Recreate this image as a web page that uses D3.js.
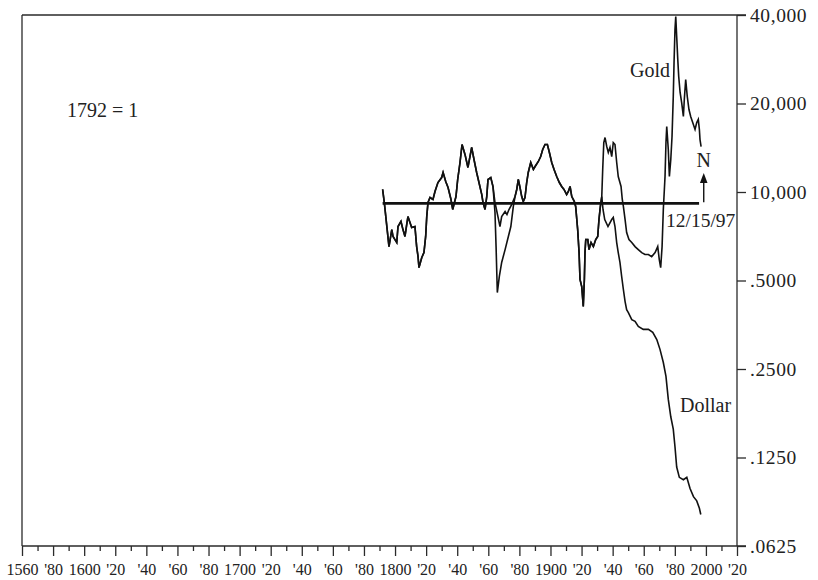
<!DOCTYPE html>
<html>
<head>
<meta charset="utf-8">
<script src="https://cdn.jsdelivr.net/npm/d3@7"></script>
<style>
  html, body { margin: 0; padding: 0; background: #fff; }
  svg { display: block; }
  text { font-family: "Liberation Serif", "Times New Roman", serif; fill: #222; }
</style>
</head>
<body>
<svg id="chart" width="818" height="580"></svg>
<script>
// ---- Data (index, 1792 = 1) ----
const goldYears = [
  1792, 1793.1, 1796.1, 1797.9, 1798.7, 1801.1, 1801.9, 1803.8, 1805.1, 1806.4, 1807.5, 1808.3,
  1809.6, 1810.7, 1812.8, 1813.9, 1814.8, 1815.4, 1817.2, 1818.6, 1819.7, 1820.4, 1821.2, 1822.5,
  1824.4, 1825.7, 1827.6, 1830.0, 1830.9, 1832.6, 1834.1, 1836.0, 1837.1, 1837.9, 1839.2, 1840.3,
  1841.8, 1843.1, 1845.0, 1846.9, 1849.3, 1850.8, 1852.5, 1854.0, 1855.8, 1856.6, 1857.9, 1859.0,
  1859.8, 1861.6, 1863.0, 1864.3, 1866.2, 1867.5, 1868.6, 1870.8, 1872.0, 1873.3, 1875.1, 1875.9,
  1877.2, 1878.3, 1879.3, 1880.4, 1881.5, 1882.5, 1883.6, 1884.7, 1885.7, 1887.3, 1889.0, 1890.1,
  1892.2, 1893.7, 1895.0, 1896.5, 1898.0, 1899.3, 1900.8, 1902.3, 1904.0, 1905.7, 1907.2, 1908.7,
  1910.4, 1911.5, 1912.6, 1913.7, 1915.3, 1916.2, 1917.5, 1918.4, 1919.0, 1920.1, 1921.1, 1921.8,
  1922.2, 1922.7, 1924.0, 1924.8, 1926.1, 1927.6, 1929.1, 1930.4, 1931.2, 1932.1, 1933.0,
  1933.6, 1934.3, 1935.1, 1936.2, 1937.2, 1938.3, 1939.4, 1940.4, 1941.5, 1942.6, 1943.6, 1945.4,
  1946.2, 1946.9, 1948.0, 1949.0, 1950.5, 1952.3, 1954.4, 1956.5, 1958.7, 1960.8, 1963.0, 1965.1,
  1967.3, 1969.0, 1970.0, 1970.9, 1971.8, 1972.6, 1973.7, 1974.3, 1974.8, 1975.8, 1976.5, 1977.4,
  1978.2, 1979.0, 1979.5, 1980.1, 1980.6, 1981.2, 1981.9, 1982.5, 1983.4, 1984.4, 1985.5, 1986.1,
  1987.0, 1988.0, 1989.1, 1990.2, 1991.5, 1993.0, 1994.1, 1995.1, 1995.8, 1996.2, 1996.9
];
const goldIndex = [
  1.02, 0.92, 0.652, 0.745, 0.706, 0.673, 0.763, 0.794, 0.745, 0.706, 0.775, 0.825,
  0.787, 0.757, 0.763, 0.652, 0.603, 0.553, 0.599, 0.622, 0.706, 0.825, 0.921, 0.958,
  0.943, 1.004, 1.077, 1.120, 1.165, 1.086, 1.036, 0.943, 0.872, 0.907, 0.965, 1.103,
  1.260, 1.451, 1.342, 1.212, 1.417, 1.290, 1.165, 1.077, 0.980, 0.921, 0.872, 0.965,
  1.103, 1.120, 1.044, 0.921, 0.825, 0.763, 0.825, 0.858, 0.838, 0.872, 0.907, 0.929,
  0.965, 1.020, 1.103, 1.036, 0.965, 0.929, 0.958, 1.077, 1.165, 1.260, 1.193, 1.221,
  1.270, 1.320, 1.395, 1.451, 1.451, 1.362, 1.260, 1.193, 1.129, 1.077, 1.044, 1.020,
  0.980, 1.004, 1.044, 0.965, 0.929, 0.893, 0.745, 0.622, 0.504, 0.477, 0.408, 0.504,
  0.622, 0.689, 0.689, 0.637, 0.673, 0.652, 0.689, 0.706, 0.806, 0.893, 0.965,
  1.193, 1.473, 1.532, 1.428, 1.362, 1.417, 1.320, 1.473, 1.451, 1.260, 1.129, 1.044,
  0.943, 0.893, 0.806, 0.728, 0.689, 0.673, 0.652, 0.637, 0.622, 0.613, 0.613, 0.603,
  0.622, 0.652, 0.589, 0.553, 0.652, 0.872, 1.129, 1.473, 1.670, 1.395, 1.129, 1.290,
  1.544, 2.113, 2.757, 3.570, 3.953, 3.380, 2.822, 2.471, 2.180, 2.015, 1.806, 2.064,
  2.413, 2.113, 1.908, 1.806, 1.723, 1.632, 1.723, 1.767, 1.632, 1.508, 1.428
];

const dollarYears = [
  1792, 1793.1, 1796.1, 1797.9, 1798.7, 1801.1, 1801.9, 1803.8, 1805.1, 1806.4, 1807.5, 1808.3,
  1809.6, 1810.7, 1812.8, 1813.9, 1814.8, 1815.4, 1817.2, 1818.6, 1819.7, 1820.4, 1821.2, 1822.5,
  1824.4, 1825.7, 1827.6, 1830.0, 1830.9, 1832.6, 1834.1, 1836.0, 1837.1, 1837.9, 1839.2, 1840.3,
  1841.8, 1843.1, 1845.0, 1846.9, 1849.3, 1850.8, 1852.5, 1854.0, 1855.8, 1856.6, 1857.9, 1859.0,
  1859.8, 1861.6, 1863.0, 1864.3, 1865.0, 1865.8, 1867.1, 1868.6, 1870.8, 1872.9, 1874.5, 1876.1,
  1877.2, 1878.3, 1879.3, 1880.4, 1881.5, 1882.5, 1883.6, 1884.7, 1885.7, 1887.3, 1889.0, 1890.1,
  1892.2, 1893.7, 1895.0, 1896.5, 1898.0, 1899.3, 1900.8, 1902.3, 1904.0, 1905.7, 1907.2, 1908.7,
  1910.4, 1911.5, 1912.6, 1913.7, 1915.3, 1916.2, 1917.5, 1918.4, 1919.0, 1920.1, 1921.1, 1921.8,
  1922.2, 1922.7, 1924.0, 1924.8, 1926.1, 1927.6, 1929.1, 1930.4, 1931.2, 1932.1, 1933.0,
  1933.8, 1934.9, 1937.0, 1939.4, 1940.4, 1941.5, 1942.6, 1943.6, 1944.7, 1945.8, 1946.9, 1948.0,
  1949.0, 1950.1, 1952.3, 1954.4, 1956.5, 1959.7, 1963.0, 1965.8, 1968.4, 1970.5, 1972.6, 1974.3,
  1975.8, 1977.4, 1979.0, 1980.1, 1981.2, 1982.9, 1985.5, 1987.7, 1989.8, 1992.0, 1994.1, 1995.8,
  1996.7
];
const dollarIndex = [
  1.02, 0.92, 0.652, 0.745, 0.706, 0.673, 0.763, 0.794, 0.745, 0.706, 0.775, 0.825,
  0.787, 0.757, 0.763, 0.652, 0.603, 0.553, 0.599, 0.622, 0.706, 0.825, 0.921, 0.958,
  0.943, 1.004, 1.077, 1.120, 1.165, 1.086, 1.036, 0.943, 0.872, 0.907, 0.965, 1.103,
  1.260, 1.451, 1.342, 1.212, 1.417, 1.290, 1.165, 1.077, 0.980, 0.921, 0.872, 0.965,
  1.103, 1.120, 1.044, 0.852, 0.652, 0.455, 0.516, 0.576, 0.637, 0.706, 0.763, 0.893,
  0.965, 1.020, 1.103, 1.036, 0.965, 0.929, 0.958, 1.077, 1.165, 1.260, 1.193, 1.221,
  1.270, 1.320, 1.395, 1.451, 1.451, 1.362, 1.260, 1.193, 1.129, 1.077, 1.044, 1.020,
  0.980, 1.004, 1.044, 0.965, 0.929, 0.893, 0.745, 0.622, 0.504, 0.477, 0.408, 0.504,
  0.622, 0.689, 0.689, 0.637, 0.673, 0.652, 0.689, 0.706, 0.806, 0.893, 0.965,
  0.872, 0.806, 0.763, 0.806, 0.819, 0.763, 0.673, 0.622, 0.576, 0.516, 0.466, 0.424,
  0.398, 0.389, 0.368, 0.363, 0.349, 0.341, 0.341, 0.333, 0.315, 0.291, 0.263, 0.236,
  0.197, 0.172, 0.156, 0.136, 0.116, 0.107, 0.105, 0.107, 0.098, 0.092, 0.089, 0.084,
  0.080
];

const baselineValue = 0.915;          // the "1792 = 1" reference line
const baselineYears = [1792, 1995.6];
const markerYear = 1998.6;            // 12/15/97 arrow

const xTickYears = d3.range(1560, 2021, 20);
const xTickLabels = ["1560", "'80", "1600", "'20", "'40", "'60", "'80", "1700", "'20", "'40", "'60",
  "'80", "1800", "'20", "'40", "'60", "'80", "1900", "'20", "'40", "'60", "'80", "2000", "'20"];
const xMinorYears = d3.range(1570, 2020, 20);
const yTickValues = [4, 2, 1, 0.5, 0.25, 0.125, 0.0625];
const yTickLabels = ["40,000", "20,000", "10,000", ".5000", ".2500", ".1250", ".0625"];

// ---- Layout ----
const svg = d3.select("#chart");
const L = 22, R = 737, T = 15, B = 546;
const x = d3.scaleLinear().domain([1560, 2020]).range([L, R]);
const y = d3.scaleLog().base(2).domain([0.0625, 4]).range([B, T]);
const ink = "#2a2a2a";

svg.append("rect").attr("width", 818).attr("height", 580).attr("fill", "#fff");

// frame
const frame = svg.append("g").attr("stroke", ink).attr("stroke-width", 1.3).attr("fill", "none");
frame.append("line").attr("x1", L).attr("x2", L).attr("y1", T).attr("y2", B);
frame.append("line").attr("x1", L).attr("x2", R + 9).attr("y1", T).attr("y2", T);
frame.append("line").attr("x1", L).attr("x2", R + 9).attr("y1", B).attr("y2", B);
frame.append("line").attr("x1", R).attr("x2", R).attr("y1", T).attr("y2", B);

// bottom axis: major ticks with labels
const xMajor = d3.axisBottom(x).tickValues(xTickYears)
  .tickFormat((d, i) => xTickLabels[i]).tickSize(10).tickPadding(8);
const gx = svg.append("g").attr("transform", `translate(0,${B})`).call(xMajor);
gx.select(".domain").remove();
gx.selectAll("line").attr("stroke", ink).attr("stroke-width", 1.3);
gx.selectAll("text").attr("font-size", 16).attr("fill", "#222")
  .style("font-family", '"Liberation Serif", serif');

const xMinor = d3.axisBottom(x).tickValues(xMinorYears).tickFormat("").tickSize(5);
const gxm = svg.append("g").attr("transform", `translate(0,${B})`).call(xMinor);
gxm.select(".domain").remove();
gxm.selectAll("line").attr("stroke", ink).attr("stroke-width", 1.3);

// right axis
const yAxis = d3.axisRight(y).tickValues(yTickValues)
  .tickFormat((d, i) => yTickLabels[i]).tickSize(9).tickPadding(4);
const gy = svg.append("g").attr("transform", `translate(${R},0)`).call(yAxis);
gy.select(".domain").remove();
gy.selectAll("line").attr("stroke", ink).attr("stroke-width", 1.3);
gy.selectAll("text").attr("font-size", 19.5).attr("fill", "#222")
  .style("letter-spacing", "0.6px")
  .style("font-family", '"Liberation Serif", serif');

// baseline
svg.append("line")
  .attr("x1", x(baselineYears[0])).attr("x2", x(baselineYears[1]))
  .attr("y1", y(baselineValue)).attr("y2", y(baselineValue))
  .attr("stroke", "#111").attr("stroke-width", 2.6);

// series
const line = d3.line().x(d => x(d[0])).y(d => y(d[1]));
const goldData = goldYears.map((yr, i) => [yr, goldIndex[i]]);
const dollarData = dollarYears.map((yr, i) => [yr, dollarIndex[i]]);

svg.append("path").datum(dollarData).attr("d", line)
  .attr("fill", "none").attr("stroke", "#111").attr("stroke-width", 1.6)
  .attr("stroke-linejoin", "miter");
svg.append("path").datum(goldData).attr("d", line)
  .attr("fill", "none").attr("stroke", "#111").attr("stroke-width", 1.6)
  .attr("stroke-linejoin", "miter");

// arrow
const ax = x(markerYear);
const ay0 = y(baselineValue) - 1;
const ay1 = 173;
svg.append("line").attr("x1", ax).attr("x2", ax).attr("y1", ay0).attr("y2", ay1 + 6)
  .attr("stroke", "#111").attr("stroke-width", 1.4);
svg.append("path")
  .attr("d", `M${ax},${ay1} L${ax - 3.8},${ay1 + 10} L${ax + 3.8},${ay1 + 10} Z`)
  .attr("fill", "#111");

// annotations
const ann = svg.append("g").attr("font-size", 20);
ann.append("text").attr("x", 67).attr("y", 117).text("1792 = 1");
ann.append("text").attr("x", 670).attr("y", 77).attr("text-anchor", "end").text("Gold");
ann.append("text").attr("x", 680).attr("y", 412).text("Dollar");
ann.append("text").attr("x", ax).attr("y", 167).attr("text-anchor", "middle").text("N");
ann.append("text").attr("x", 666).attr("y", 227).attr("font-size", 19.5).text("12/15/97");
</script>
</body>
</html>
